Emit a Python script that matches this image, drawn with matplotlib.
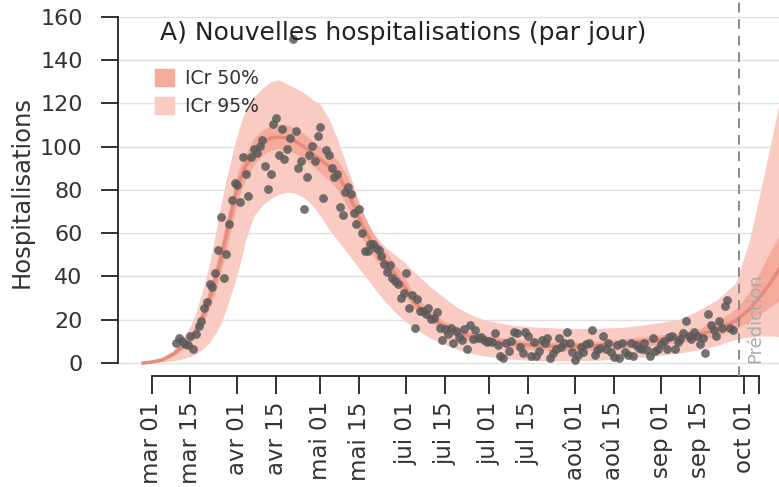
import matplotlib
matplotlib.use('Agg')
import matplotlib.pyplot as plt
import matplotlib.dates as mdates
from matplotlib.patches import Patch
import numpy as np
import pandas as pd

# observed daily hospitalisations, from 10 March 2020
obs_start = '2020-03-10'
obs_values = [
    9.4, 11.4, 10, 9, 8.3, 12.5, 6.3, 13.3, 17, 19.4, 25.3, 28.3, 36.4, 35.3, 41.5,
    52.3, 67.4, 39.2, 50.4, 64.3, 75.4, 83.4, 82.3, 74.3, 95.1, 87.4, 77.2, 95.1, 99,
    97.3, 100.3, 103.1, 91.1, 80.3, 87.3, 110.4, 113.2, 96.2, 108.1, 94.2, 99, 104.2,
    150, 107.3, 90, 93.4, 71.2, 86.2, 96.2, 100.3, 93.4, 105.1, 109.3, 76.4, 98.5,
    96.2, 90.3, 86.2, 87.3, 72.3, 68.4, 79.2, 81.5, 78.2, 69.2, 64.3, 71.2, 60.3,
    52, 52, 55, 55, 53, 52.3, 49.5, 45.6, 42.2, 45.3, 39.5, 38.1, 36.4, 30.2, 32.5,
    41.5, 25.3, 31.4, 16.3, 29.4, 24.2, 24.2, 22.5, 25.3, 20.2, 21, 23.7, 16.3, 10.6,
    15.6, 13.4, 16.3, 9.4, 14.9, 12, 10.6, 15.6, 6.5, 17.6, 11, 15.3, 11.4, 12, 10.6,
    9.9, 10,
    9.9, 13.7, 8.3, 3.4, 2.2, 9.4, 5.5, 10.3, 14.5, 13.7, 7.5, 4.5, 14.5, 12.5, 3.4,
    9.9, 3.2, 5.5, 10.6, 9.4, 11.4, 2.2, 4.5, 6.3, 11.4, 7.5, 9.4, 14.5, 9.1, 5.2,
    1.4, 3.7, 7.5, 5.2, 8.6, 9.1, 15.3, 3.7, 6, 6.8, 12.6, 6.3, 9.4, 5.2, 2.9, 8.3, 2.2,
    9.4, 5.2, 3.7, 9.4, 3.2, 8.3, 6.8, 6.3, 9.4, 6, 3.2, 11.4, 5.7, 6.3, 8.6, 10.3,
    6.3, 11.9, 12.5, 6.3, 9.9, 11, 13.7, 19.4, 12.5, 11, 14.5, 12.5, 8.6, 11.4, 4.5,
    22.5, 17.6, 15.3, 12.5, 19.4, 16.3, 26.4, 29.1, 16, 15.3,
]

# model fit / prediction (days after 1 March 2020)
model_days = [-3, 0, 4, 8, 11, 14, 16, 19, 21, 23, 25, 27, 30, 32, 34, 37, 40, 43, 46, 49,
              52, 55, 58, 61, 64, 67, 70, 73, 76, 79, 82, 85, 88, 91, 95, 100, 105, 110,
              115, 120, 130, 140, 150, 160, 170, 180, 190, 197, 204, 211, 216, 220, 224, 228]
med = [0, 0.4, 1.5, 4.2, 7.5, 11.4, 14.7, 23, 30, 38, 48, 59, 76, 85, 91, 98, 101.5, 104,
       104.5, 104, 102.5, 100, 97, 94, 91, 87.5, 81, 73, 64, 57, 51, 46, 41, 36, 28, 22,
       17.5, 14.5, 12.5, 11, 9, 8, 7.5, 8, 9, 10.2, 11.5, 13, 15.5, 19.5, 25, 31, 38, 46]
lo50 = [0, 0.2, 1.1, 3.3, 6, 9.3, 12, 19.5, 25.5, 32.5, 41.5, 52, 69, 78.5, 85, 92, 96, 98.5,
        99, 98.5, 97, 94.5, 91.5, 88, 84.5, 80.5, 74, 66.5, 58, 51.5, 46, 41, 36.5, 32, 25,
        19.5, 15.5, 12.5, 10.5, 9, 7, 6, 5.5, 6, 6.8, 8, 9.3, 10.5, 12.5, 15.5, 19.5, 23,
        26.5, 30]
hi50 = [0, 0.6, 2, 5, 9, 13.5, 17.5, 27, 35, 44, 54.5, 66, 83, 91.5, 97, 104, 107.5, 110,
        110.5, 110, 108.5, 106, 103, 100, 97, 94, 88, 80, 70.5, 62.5, 56, 51, 45.5, 40.5,
        31.5, 25, 20, 16.5, 14.5, 13, 11, 10, 9.5, 10, 11, 12.5, 14, 15.5, 19, 25, 33, 43,
        53, 62]
lo95 = [0, 0, 0.5, 1, 1.8, 3, 4, 7, 9.5, 13.5, 18, 25, 37, 46, 57, 68, 73, 76, 78, 79,
        78.5, 76.5, 73, 68, 62, 57, 52, 47, 42, 37, 32, 27.5, 23.5, 20, 16, 12, 9, 6.5,
        4.5, 3.3, 1.8, 1, 1, 1.2, 2, 3, 4.5, 6, 8, 11, 12, 12.5, 12.5, 12]
hi95 = [0, 0.8, 2.5, 6, 11, 17, 23, 36, 46, 59, 73, 85, 101, 110, 117, 123, 127, 130, 131,
        129, 127, 125, 122, 119.5, 113, 104, 93, 82, 70, 61, 57, 53, 50, 47, 42, 36, 31,
        26, 22.5, 20, 17.5, 16.5, 16, 16, 16.5, 18, 20, 24, 29, 37, 57, 80, 104, 128]

tick_dates = ['2020-03-01', '2020-03-15', '2020-04-01', '2020-04-15', '2020-05-01',
              '2020-05-15', '2020-06-01', '2020-06-15', '2020-07-01', '2020-07-15',
              '2020-08-01', '2020-08-15', '2020-09-01', '2020-09-15', '2020-10-01']
tick_labels = ['mar 01', 'mar 15', 'avr 01', 'avr 15', 'mai 01', 'mai 15', 'jui 01',
               'jui 15', 'jul 01', 'jul 15', 'aoû 01', 'aoû 15', 'sep 01', 'sep 15', 'oct 01']
pred_date = '2020-09-29'

c95 = '#f9cbc2'
c50 = '#f5ab9c'
cmed = '#e48b7a'

base = mdates.date2num(pd.Timestamp('2020-03-01'))
obs_x = pd.date_range(obs_start, periods=len(obs_values))
mx = base + np.array(model_days)

fig = plt.figure(figsize=(7.79, 4.87), dpi=100)
ax = fig.add_axes([118 / 779, 111.5 / 487, 1 - 118 / 779, 375.5 / 487])

ax.fill_between(mx, lo95, hi95, color=c95, lw=0, zorder=1)
ax.fill_between(mx, lo50, hi50, color=c50, lw=0, zorder=2)
ax.plot(mx, med, color=cmed, lw=2.5, zorder=3)
ax.scatter(obs_x, obs_values, s=40, color='#5a5a5a', alpha=0.85, lw=0, zorder=4)

ax.axvline(mdates.date2num(pd.Timestamp(pred_date)), color='#8a8a8a', lw=1.4,
           ls=(0, (5, 3.5)), zorder=5)
ax.text(mdates.date2num(pd.Timestamp(pred_date)) + 6, 0, 'Prédiction', rotation=90,
        ha='center', va='bottom', fontsize=13, color='#aaaaaa', zorder=6)

ax.set_xlim(base - 12.1, base + 226.6)
ax.set_ylim(-5.78, 167.86)

ax.set_yticks(range(0, 161, 20))
ax.yaxis.grid(True, color='#e0e0e0', lw=1)
ax.set_axisbelow(True)
ax.set_xticks([mdates.date2num(pd.Timestamp(d)) for d in tick_dates])
ax.set_xticklabels(tick_labels, rotation=90)
ax.set_xticks([base + 219.2], minor=True)

for s in ['top', 'right']:
    ax.spines[s].set_visible(False)
ax.spines['left'].set_bounds(0, 160)
ax.spines['bottom'].set_bounds(base, base + 219.2)
for s in ['left', 'bottom']:
    ax.spines[s].set_color('#222222')
    ax.spines[s].set_linewidth(1.3)

ax.tick_params(axis='y', length=12.5, width=1.3, color='#222222', labelsize=16,
               labelcolor='#333333', pad=13)
ax.tick_params(axis='x', which='both', length=12.6, width=1.3, color='#222222',
               labelsize=16.5, labelcolor='#333333', pad=6)

fig.text(22 / 779, 1 - 192 / 487, 'Hospitalisations', rotation=90, ha='center',
         va='center', fontsize=17.5, color='#333333')
fig.text(160 / 779, 1 - 33 / 487, 'A) Nouvelles hospitalisations (par jour)',
         ha='left', va='center', fontsize=18, color='#222222')

handles = [Patch(color=c50, label='ICr 50%'), Patch(color=c95, label='ICr 95%')]
ax.legend(handles=handles, loc='upper left', bbox_to_anchor=(142 / 779, 1 - 56 / 487),
          bbox_transform=fig.transFigure, frameon=False, fontsize=13.5,
          handlelength=1.0, handleheight=1.0, handletextpad=0.6, labelspacing=0.45,
          borderpad=0.2, labelcolor='#333333')

fig.savefig('out.png', dpi=100)
